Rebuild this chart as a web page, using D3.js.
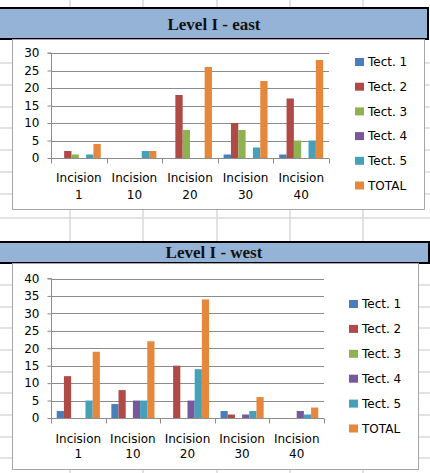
<!DOCTYPE html>
<html>
<head>
<meta charset="utf-8">
<script src="https://cdn.jsdelivr.net/npm/d3@7"></script>
<style>
  html, body { margin: 0; padding: 0; background: #fff; }
  svg { display: block; }
</style>
</head>
<body>
<svg id="sheet" width="430" height="473"></svg>
<script>
// Categories, series and values for the two levels
const categories = ["Incision 1", "Incision 10", "Incision 20", "Incision 30", "Incision 40"];
const seriesNames = ["Tect. 1", "Tect. 2", "Tect. 3", "Tect. 4", "Tect. 5", "TOTAL"];
const seriesColors = ["#4A7EBB", "#B04A47", "#8EB152", "#77599B", "#45A0BA", "#E5883C"];

// east: one array per series, values in category order
const eastTect1 = [0, 0, 0, 1, 1];
const eastTect2 = [2, 0, 18, 10, 17];
const eastTect3 = [1, 0, 8, 8, 5];
const eastTect4 = [0, 0, 0, 0, 0];
const eastTect5 = [1, 2, 0, 3, 5];
const eastTotal = [4, 2, 26, 22, 28];

const westTect1 = [2, 4, 0, 2, 0];
const westTect2 = [12, 8, 15, 1, 0];
const westTect3 = [0, 0, 0, 0, 0];
const westTect4 = [0, 5, 5, 1, 2];
const westTect5 = [5, 5, 14, 2, 1];
const westTotal = [19, 22, 34, 6, 3];

const eastTicks = [0, 5, 10, 15, 20, 25, 30];
const westTicks = [0, 5, 10, 15, 20, 25, 30, 35, 40];

const svg = d3.select("#sheet");

// Spreadsheet cell grid behind the charts
const rowLines = [63, 85, 107, 128, 150, 172, 194, 218, 285, 307, 328, 350, 372, 393, 415, 437, 458];
const colLines = [70, 143, 217, 290, 363];
const grid = svg.append("g");
grid.selectAll("line.r").data(rowLines).join("line")
  .attr("x1", 0).attr("x2", 430).attr("y1", d => d).attr("y2", d => d)
  .attr("stroke", "#d9d9d9").attr("stroke-width", 1.5);
grid.selectAll("line.c").data(colLines).join("line")
  .attr("y1", 0).attr("y2", 473).attr("x1", d => d).attr("x2", d => d)
  .attr("stroke", "#d9d9d9").attr("stroke-width", 1.5);

function drawChart(cfg) {
  const g = svg.append("g");

  // Title band
  g.append("rect")
    .attr("x", -4).attr("y", cfg.band.y).attr("width", cfg.band.right + 4).attr("height", cfg.band.h)
    .attr("fill", "#95B3D7").attr("stroke", "#000").attr("stroke-width", 2);
  g.append("text")
    .attr("x", 214).attr("y", cfg.band.titleY)
    .attr("text-anchor", "middle")
    .attr("font-family", "Liberation Serif, Times New Roman, serif")
    .attr("font-weight", "bold").attr("font-size", 17)
    .attr("fill", "#111")
    .text(cfg.title);

  // Chart frame
  g.append("rect")
    .attr("x", cfg.box.x + 0.5).attr("y", cfg.box.y + 0.5)
    .attr("width", cfg.box.w).attr("height", cfg.box.h)
    .attr("fill", "#fff").attr("stroke", "#a6a6a6").attr("stroke-width", 1);

  const x0 = d3.scaleBand().domain(categories).range([cfg.plot.x0, cfg.plot.x1]).padding(0);
  const bw = x0.bandwidth();
  const x1 = d3.scaleBand().domain(seriesNames).range([bw * 0.105, bw * 0.895]).padding(0);
  const y = d3.scaleLinear().domain([0, cfg.yMax]).range([cfg.plot.y0, cfg.plot.yTop]);
  const color = d3.scaleOrdinal().domain(seriesNames).range(seriesColors);

  // Horizontal value gridlines
  g.append("g").selectAll("line").data(cfg.ticks.filter(t => t > 0)).join("line")
    .attr("x1", cfg.plot.x0).attr("x2", cfg.plot.x1)
    .attr("y1", d => Math.round(y(d)) + 0.5).attr("y2", d => Math.round(y(d)) + 0.5)
    .attr("stroke", "#8c8c8c").attr("stroke-width", 1);

  // Bars
  const rows = categories.map((c, i) => ({ cat: c, vals: cfg.series.map((s, k) => ({ name: seriesNames[k], v: s[i] })) }));
  g.append("g").selectAll("g").data(rows).join("g")
    .attr("transform", d => `translate(${x0(d.cat)},0)`)
    .selectAll("rect").data(d => d.vals.filter(e => e.v > 0)).join("rect")
    .attr("x", d => x1(d.name)).attr("width", x1.bandwidth())
    .attr("y", d => y(d.v)).attr("height", d => y(0) - y(d.v))
    .attr("fill", d => color(d.name));

  // Value axis
  const yAxis = d3.axisLeft(y).tickValues(cfg.ticks).tickSize(4).tickPadding(8);
  const ya = g.append("g").attr("transform", `translate(${cfg.plot.x0 + 0.5},0)`).call(yAxis);
  ya.select(".domain").attr("stroke", "#8c8c8c").attr("d", `M-4,${y(cfg.yMax)}H0V${y(0)}`);
  ya.selectAll(".tick line").attr("stroke", "#8c8c8c");
  ya.selectAll(".tick text")
    .attr("font-family", "DejaVu Sans, Verdana, sans-serif").attr("font-size", 12).attr("fill", "#000");

  // Category axis with two-line labels
  const xAxis = d3.axisBottom(x0).tickSize(0).tickFormat("");
  const xa = g.append("g").attr("transform", `translate(0,${Math.round(cfg.plot.y0) + 0.5})`).call(xAxis);
  xa.select(".domain").attr("stroke", "#8c8c8c").attr("d", `M${cfg.plot.x0},0H${cfg.plot.x1}`);
  const bounds = categories.map(c => x0(c)).concat([cfg.plot.x1]);
  xa.selectAll("line.bound").data(bounds).join("line").attr("class", "bound")
    .attr("x1", d => Math.round(d) + 0.5).attr("x2", d => Math.round(d) + 0.5)
    .attr("y1", 0).attr("y2", 5).attr("stroke", "#8c8c8c");
  const lbl = xa.selectAll("text.cat").data(categories).join("text").attr("class", "cat")
    .attr("text-anchor", "middle")
    .attr("font-family", "DejaVu Sans, Verdana, sans-serif").attr("font-size", 12).attr("fill", "#000");
  lbl.append("tspan").attr("x", d => x0(d) + bw / 2).attr("y", cfg.labelDy1).text(d => d.split(" ")[0]);
  lbl.append("tspan").attr("x", d => x0(d) + bw / 2).attr("y", cfg.labelDy2).text(d => d.split(" ")[1]);

  // Legend
  const lg = g.append("g").selectAll("g").data(seriesNames).join("g")
    .attr("transform", (d, i) => `translate(${cfg.legend.x},${cfg.legend.y + i * cfg.legend.step})`);
  lg.append("rect").attr("x", 0).attr("y", -4).attr("width", 9).attr("height", 8)
    .attr("fill", d => color(d));
  lg.append("text").attr("x", 13).attr("y", 0).attr("dy", "0.36em")
    .attr("font-family", "DejaVu Sans, Verdana, sans-serif").attr("font-size", 12).attr("fill", "#000")
    .text(d => d);
}

drawChart({
  title: "Level I - east",
  band: { y: 8, h: 31, right: 428, titleY: 30 },
  box: { x: 12, y: 39, w: 412, h: 170 },
  plot: { x0: 51, x1: 329, y0: 158, yTop: 53 },
  yMax: 30,
  ticks: eastTicks,
  series: [eastTect1, eastTect2, eastTect3, eastTect4, eastTect5, eastTotal],
  labelDy1: 23, labelDy2: 40,
  legend: { x: 355, y: 62, step: 24.7 }
});

drawChart({
  title: "Level I - west",
  band: { y: 242, h: 21, right: 429, titleY: 258 },
  box: { x: 12, y: 263, w: 406, h: 206 },
  plot: { x0: 51, x1: 324, y0: 418, yTop: 278.5 },
  yMax: 40,
  ticks: westTicks,
  series: [westTect1, westTect2, westTect3, westTect4, westTect5, westTotal],
  labelDy1: 24, labelDy2: 39,
  legend: { x: 349, y: 304, step: 24.9 }
});
</script>
</body>
</html>
